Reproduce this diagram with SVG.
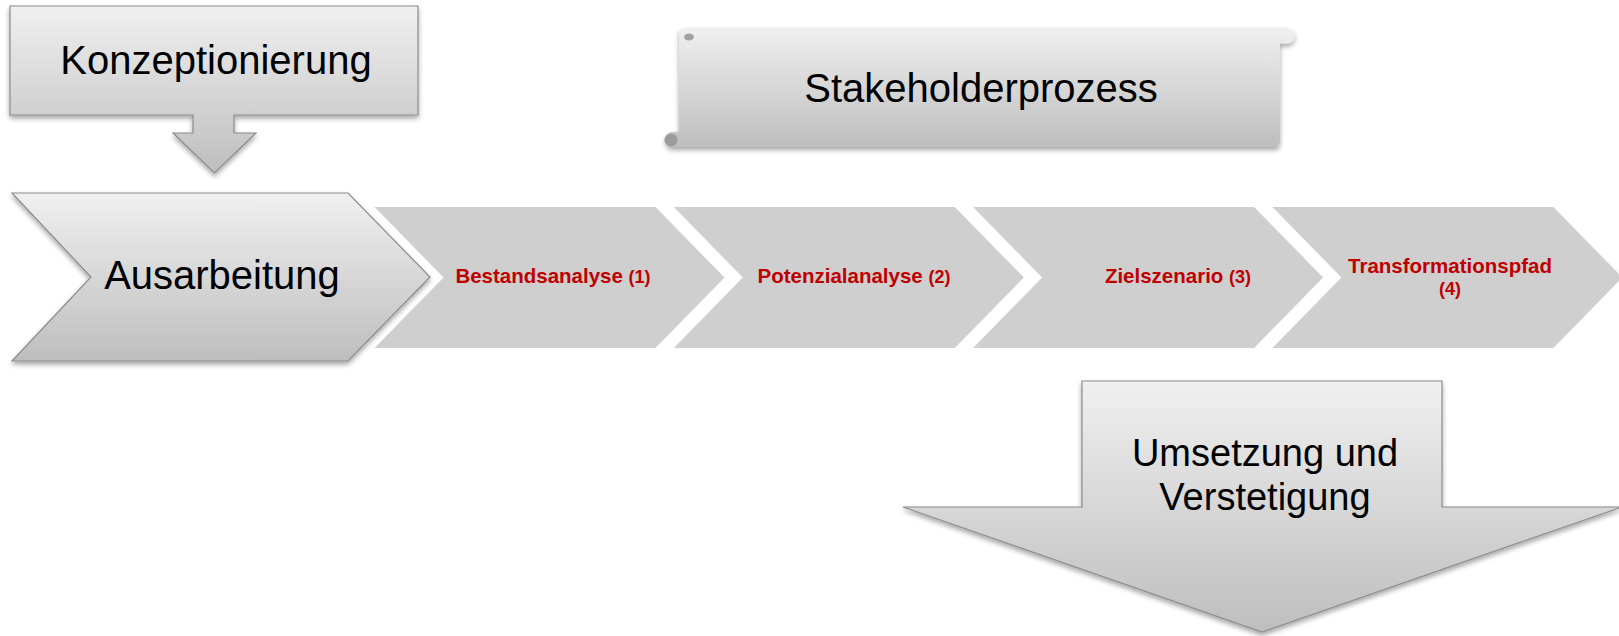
<svg xmlns="http://www.w3.org/2000/svg" width="1619" height="636" viewBox="0 0 1619 636">
  <defs>
    <linearGradient id="gv" x1="0" y1="0" x2="0" y2="1">
      <stop offset="0" stop-color="#f0f0f0"/>
      <stop offset="1" stop-color="#bebebe"/>
    </linearGradient>
    <filter id="sh" x="-10%" y="-10%" width="120%" height="130%">
      <feDropShadow dx="0" dy="3" stdDeviation="2.5" flood-color="#000" flood-opacity="0.35"/>
    </filter>
    <style>
      .big { font-family: "Liberation Sans", Arial, sans-serif; font-size: 40px; fill: #000; text-anchor: middle; }
      .lbl { font-family: "Liberation Sans", Arial, sans-serif; font-weight: bold; font-size: 20.5px; fill: #c00000; text-anchor: middle; }
      .num { font-size: 18px; }
      .shape { fill: url(#gv); stroke: #8c8c8c; stroke-width: 1.2; filter: url(#sh); }
      .step { fill: #cfcfcf; }
    </style>
  </defs>

  <g id="step1">
    <polygon class="step" points="374.5,207 655.5,207 724.5,277.5 655.5,348 374.5,348 443.5,277.5"/>
    <text class="lbl" x="553" y="283">Bestandsanalyse <tspan class="num">(1)</tspan></text>
  </g>
  <g id="step2">
    <polygon class="step" points="673.8,207 954.8,207 1023.8,277.5 954.8,348 673.8,348 742.8,277.5"/>
    <text class="lbl" x="854" y="283">Potenzialanalyse <tspan class="num">(2)</tspan></text>
  </g>
  <g id="step3">
    <polygon class="step" points="973.1,207 1254.1,207 1323.1,277.5 1254.1,348 973.1,348 1042.1,277.5"/>
    <text class="lbl" x="1178" y="283">Zielszenario <tspan class="num">(3)</tspan></text>
  </g>
  <g id="step4">
    <polygon class="step" points="1272.4,207 1553.4,207 1622.4,277.5 1553.4,348 1272.4,348 1341.4,277.5"/>
    <text class="lbl" x="1450" y="273">Transformationspfad</text>
    <text class="lbl num" x="1450" y="295">(4)</text>
  </g>

  <g id="ausarbeitung">
    <polygon points="12,193 348,193 430,277 348,361 12,361 91,277" fill="none" stroke="#ffffff" stroke-width="9" stroke-linejoin="miter"/>
    <polygon class="shape" points="12,193 348,193 430,277 348,361 12,361 91,277"/>
    <text class="big" x="222" y="289">Ausarbeitung</text>
  </g>

  <g id="konzeptionierung">
    <path class="shape" d="M10,6 H418 V115 H234 V133 H256 L214.5,173 L173,133 H193 V115 H10 Z"/>
    <text class="big" x="216" y="74">Konzeptionierung</text>
  </g>

  <g id="stakeholderprozess">
    <path d="M684,28 H1287 A7.8,7.8 0 0 1 1287,43.6 H1280 V141 Q1280,147 1274,147 H672.5 A7.5,7.5 0 0 1 672.5,132 H679 V33 Q679,28 684,28 Z" fill="url(#gv)" filter="url(#sh)"/>
    <circle cx="671" cy="140" r="6.5" fill="#9c9c9c"/>
    <ellipse cx="689" cy="37" rx="5" ry="3.5" fill="#a2a2a2"/>
    <text class="big" x="981" y="102">Stakeholderprozess</text>
  </g>

  <g id="umsetzung">
    <path class="shape" d="M1082,381 H1442 V507 H1622 L1262,632 L903,507 H1082 Z"/>
    <text class="big" style="font-size:38px" x="1265" y="466">Umsetzung und</text>
    <text class="big" style="font-size:38px" x="1265" y="510">Verstetigung</text>
  </g>

  <g id="connectors"/>
</svg>
